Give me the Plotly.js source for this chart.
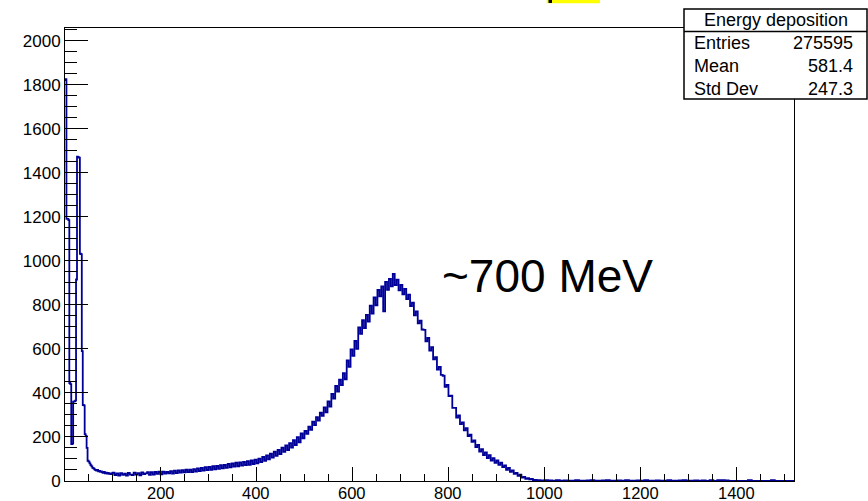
<!DOCTYPE html>
<html>
<head>
<meta charset="utf-8">
<script src="https://cdn.plot.ly/plotly-3.0.1.min.js"></script>
<style>html,body{margin:0;padding:0;background:#fff;}#chart{width:868px;height:501px;}</style>
</head>
<body>
<div id="chart"></div>
<script>
// Histogram "Energy deposition" (counts per 1 MeV bin).
// Region A: 0-100 MeV, read every 2 MeV
const regionAStart = 0, regionAStep = 2;
const countsA = [1820,1825,1190,1190,1185,445,440,168,170,360,
                 362,365,915,1473,1470,1468,1032,1030,590,345,
                 343,213,205,150,92,88,80,72,66,60,
                 57,53,50,47,50,44,46,41,44,39,
                 37,41,35,38,34,37,32,35,31,34];
// Region B: 100-1000 MeV, read every 4 MeV
const regionBStart = 100, regionBStep = 4;
const countsB = [38,27,35,25,36,28,33,24,37,29,
                 27,38,29,36,26,39,31,35,40,28,
                 40,29,41,32,42,30,43,34,41,35,
                 45,34,47,36,48,38,49,39,51,40,
                 52,40,54,43,57,45,59,47,63,50,
                 64,51,67,53,69,55,72,57,73,60,
                 78,62,80,65,83,67,85,70,87,72,
                 90,73,93,77,97,80,102,86,109,92,
                 116,98,124,106,133,114,141,122,151,132,
                 162,140,172,152,185,163,199,176,216,194,
                 228,214,247,232,270,254,290,274,310,296,
                 334,312,362,338,396,374,432,406,460,436,
                 490,462,548,518,598,568,636,600,698,668,
                 730,694,754,724,796,760,834,798,868,838,
                 884,770,904,868,918,884,940,890,914,866,
                 890,848,872,826,846,794,810,752,770,716,
                 728,688,686,634,650,592,608,552,562,506,
                 518,482,478,428,436,386,388,332,332,288,
                 298,258,266,230,240,204,210,178,184,154,
                 164,134,145,118,130,104,117,93,104,82,
                 93,73,83,63,71,51,59,41,48,32,
                 37,23,29,16,19,10,13,7,9,4,
                 5,3,4,2,3];
// Region C: 1000-1520 MeV, read every 8 MeV
const regionCStart = 1000, regionCStep = 8;
const countsC = [4,3,2,4,2,3,2,2,4,2,
                 2,3,4,2,2,3,4,2,2,3,
                 2,4,2,2,3,2,4,2,2,3,
                 2,2,4,2,2,3,4,2,2,3,
                 2,3,0,4,0,4,4,3,0,0,
                 0,0,0,4,0,0,0,0,0,4,
                 0,0,0,0,0];
const histEnd = 1520;

const statsTitle = "Energy deposition";
const statsLabels = ["Entries", "Mean", "Std Dev"];
const statsValues = ["275595", "581.4", "247.3"];
const peakNote = "~700 MeV";

const xTickVals = [200,400,600,800,1000,1200,1400];
const yTickVals = [0,200,400,600,800,1000,1200,1400,1600,1800,2000];

// build step outline from bin edges
const xs = [], ys = [];
function addRegion(start, step, vals) {
  vals.forEach((v, i) => { xs.push(start + i * step); ys.push(v); });
}
addRegion(regionAStart, regionAStep, countsA);
addRegion(regionBStart, regionBStep, countsB);
addRegion(regionCStart, regionCStep, countsC);
xs.push(histEnd); ys.push(countsC[countsC.length - 1]);

const FONT = "Liberation Sans, Arial, Helvetica, sans-serif";

const trace = {
  x: xs, y: ys, type: "scatter", mode: "lines",
  line: {shape: "hv", color: "#000099", width: 1.8},
  hoverinfo: "skip", showlegend: false
};

// plot area geometry helpers (paper coords from pixel positions)
const W = 868, H = 501, ML = 65, MR = 74, MT = 28, MB = 20;
const PW = W - ML - MR, PH = H - MT - MB;
const px = v => (v - ML) / PW;
const py = v => (H - MB - v) / PH;

const boxL = 684, boxR = 867, boxT = 9, boxB = 99, boxSep = 31.5;
const rowY = [43, 66, 89];

const annotations = [
  {text: statsTitle, xref: "paper", yref: "paper", x: px((boxL + boxR) / 2), y: py(20),
   xanchor: "center", yanchor: "middle", showarrow: false, font: {family: FONT, size: 18, color: "#000"}},
  {text: peakNote, xref: "paper", yref: "paper", x: px(440), y: py(275.5),
   xanchor: "left", yanchor: "middle", showarrow: false, font: {family: FONT, size: 46, color: "#000"}}
];
statsLabels.forEach((lab, i) => {
  annotations.push({text: lab, xref: "paper", yref: "paper", x: px(692), y: py(rowY[i]),
    xanchor: "left", yanchor: "middle", showarrow: false, font: {family: FONT, size: 18, color: "#000"}});
  annotations.push({text: statsValues[i], xref: "paper", yref: "paper", x: px(855), y: py(rowY[i]),
    xanchor: "right", yanchor: "middle", showarrow: false, font: {family: FONT, size: 18, color: "#000"}});
});
// x tick labels, placed tight under the axis as in the reference
xTickVals.forEach(v => {
  annotations.push({text: String(v), xref: "x", yref: "paper", x: v, y: py(483),
    xanchor: "center", yanchor: "top", showarrow: false, borderpad: 0,
    font: {family: FONT, size: 16.5, color: "#000"}});
});

const shapes = [
  {type: "rect", xref: "paper", yref: "paper", x0: px(boxL), x1: px(boxR), y0: py(boxB), y1: py(boxT),
   fillcolor: "#fff", line: {color: "#000", width: 1.5}, layer: "above"},
  {type: "line", xref: "paper", yref: "paper", x0: px(boxL), x1: px(boxR), y0: py(boxSep), y1: py(boxSep),
   line: {color: "#000", width: 1.5}, layer: "above"},
  {type: "rect", xref: "paper", yref: "paper", x0: px(546.7), x1: px(600), y0: py(3.3), y1: py(-1),
   fillcolor: "#ffff00", line: {width: 0}, layer: "above"},
  {type: "rect", xref: "paper", yref: "paper", x0: px(548.5), x1: px(552), y0: py(3), y1: py(-1),
   fillcolor: "#000", line: {width: 0}, layer: "above"}
];

const axisCommon = {
  showline: true, linecolor: "#000", linewidth: 1, mirror: true,
  ticks: "inside", tickcolor: "#000", tickwidth: 1,
  showgrid: false, zeroline: false, automargin: false,
  tickfont: {family: FONT, size: 17, color: "#000"}
};

const layout = {
  width: W, height: H,
  margin: {l: ML, r: MR, t: MT, b: MB, pad: 0},
  paper_bgcolor: "#fff", plot_bgcolor: "#fff",
  showlegend: false,
  xaxis: Object.assign({}, axisCommon, {
    range: [1, histEnd], tickmode: "array", tickvals: xTickVals, showticklabels: false,
    ticklen: 14,
    minor: {ticks: "inside", ticklen: 7, dtick: 50, tick0: 0, tickcolor: "#000", tickwidth: 1, showgrid: false}
  }),
  yaxis: Object.assign({}, axisCommon, {
    range: [0, 2057], tickmode: "array", tickvals: yTickVals, ticktext: yTickVals.map(String),
    ticklen: 23,
    minor: {ticks: "inside", ticklen: 12, dtick: 50, tick0: 0, tickcolor: "#000", tickwidth: 1, showgrid: false}
  }),
  shapes: shapes,
  annotations: annotations
};

Plotly.newPlot("chart", [trace], layout, {displayModeBar: false, staticPlot: true});
</script>
</body>
</html>
